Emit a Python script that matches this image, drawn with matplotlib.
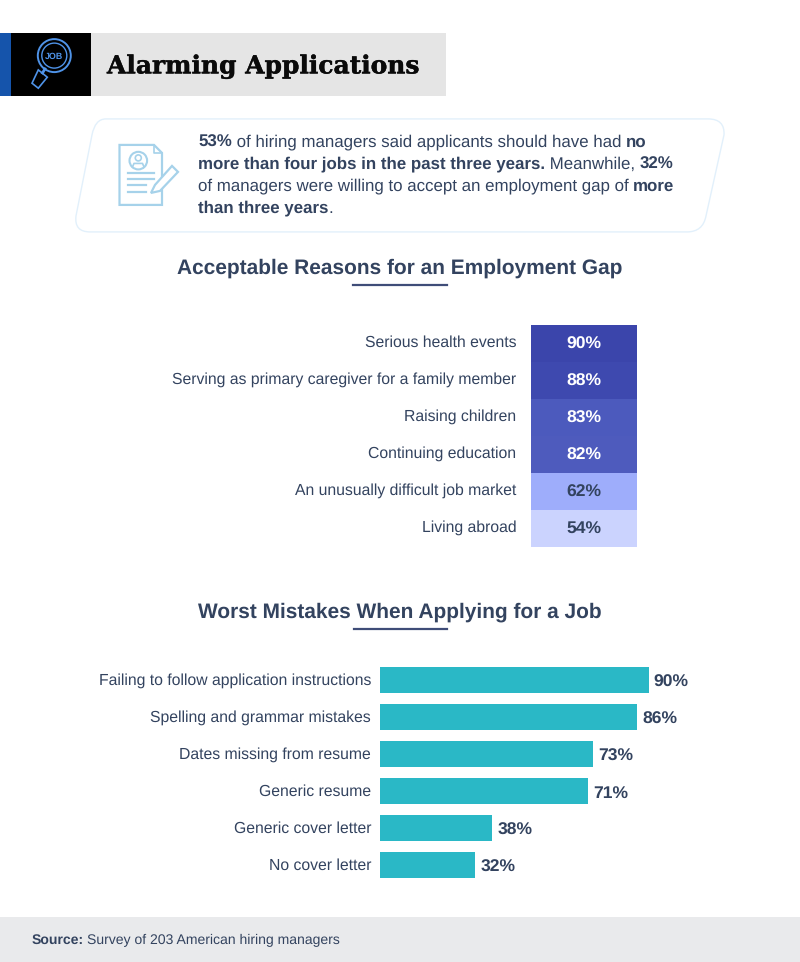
import matplotlib
matplotlib.use('Agg')
import matplotlib.pyplot as plt
import matplotlib.patheffects as pe
from matplotlib.patches import Rectangle, Circle, PathPatch, Polygon
from matplotlib.path import Path

plt.rcParams['font.family'] = ['Liberation Sans', 'DejaVu Sans']
plt.rcParams['text.hinting'] = 'no_hinting'

title = 'Alarming Applications'
heading1 = 'Acceptable Reasons for an Employment Gap'
reasons = ['Serious health events', 'Serving as primary caregiver for a family member',
           'Raising children', 'Continuing education',
           'An unusually difficult job market', 'Living abroad']
reason_vals = [90, 88, 83, 82, 62, 54]
reason_colors = ['#3b45ab', '#3e49af', '#4c5abd', '#4e5bbd', '#9eadfb', '#cbd3fe']

heading2 = 'Worst Mistakes When Applying for a Job'
mistakes = ['Failing to follow application instructions', 'Spelling and grammar mistakes',
            'Dates missing from resume', 'Generic resume', 'Generic cover letter', 'No cover letter']
mistake_labels = [90, 86, 73, 71, 38, 32]
# bar lengths as drawn, these run a bit short of the printed labels
mistake_vals = [90, 86.1, 71.4, 69.6, 37.4, 31.8]

blurb = [[('53%', True), (' of hiring managers said applicants should have had ', False), ('no', True)],
         [('more than four jobs in the past three years.', True), (' Meanwhile, ', False), ('32%', True)],
         [('of managers were willing to accept an employment gap of ', False), ('more', True)],
         [('than three years', True), ('.', False)]]

navy = '#33435f'
W, H = 800, 962

fig = plt.figure(figsize=(8, 9.621), dpi=100)
bg = fig.add_axes([0, 0, 1, 1])
bg.set_xlim(0, W)
bg.set_ylim(H, 0)
bg.axis('off')

# header band
bg.add_patch(Rectangle((0, 33), 11, 63.5, color='#1554ab', lw=0))
bg.add_patch(Rectangle((11, 33), 80, 63.5, color='#000000', lw=0))
bg.add_patch(Rectangle((91, 33), 355, 63.5, color='#e5e5e5', lw=0))
bg.text(107, 73.5, title, family='DejaVu Serif', weight='bold', fontsize=17.95, color='#0a0a0a',
        va='baseline', ha='left', path_effects=[pe.withStroke(linewidth=0.3, foreground='#0a0a0a')])

# magnifier icon
blue = '#4f93e8'
bg.add_patch(Circle((54.3, 55.7), 16.5, fc='none', ec=blue, lw=1.4))
bg.add_patch(Circle((54.3, 55.7), 12.5, fc='none', ec=blue, lw=1.0))
bg.text(54.3, 56.5, 'JOB', fontsize=6.4, weight='bold', color=blue, ha='center', va='center')
bg.plot([45, 42.5], [69, 73], color=blue, lw=2)
bg.add_patch(Polygon([(38.3, 70), (47.3, 77.3), (38.3, 88.3), (32, 83.3)], closed=True, fc='#000000',
                     ec=blue, lw=1.2))

# blurb box
verts = [(106, 119), (708, 119), (725, 119), (724, 135), (706, 216), (703, 232), (687, 232),
         (90, 232), (74, 232), (76, 216), (92, 135), (95, 119), (106, 119)]
codes = [Path.MOVETO, Path.LINETO, Path.CURVE3, Path.CURVE3, Path.LINETO, Path.CURVE3, Path.CURVE3,
         Path.LINETO, Path.CURVE3, Path.CURVE3, Path.LINETO, Path.CURVE3, Path.CURVE3]
bg.add_patch(PathPatch(Path(verts, codes), fc='white', ec='#e2f0fb', lw=1.0))

# document icon
ic = '#a6d2ea'
bg.add_patch(Polygon([(119.5, 145), (154, 145), (162, 153), (162, 205), (119.5, 205)], closed=True,
                     fc='none', ec=ic, lw=1.6))
bg.plot([154, 154, 162], [145, 153, 153], color=ic, lw=1.2)
bg.add_patch(Circle((138.3, 160.7), 8.8, fc='none', ec=ic, lw=1.5))
bg.add_patch(Circle((138.3, 158), 3, fc='none', ec=ic, lw=1.2))
bg.plot([132.5, 134, 142.5, 144], [167, 163.5, 163.5, 167], color=ic, lw=1.2)
for yy, x1 in zip([172.7, 179, 185.3, 191.7], [154, 154, 146, 146]):
    bg.plot([127.5, x1], [yy, yy], color=ic, lw=1.6)
bg.add_patch(Polygon([(155, 185), (172, 166), (178, 172), (160, 191), (151, 193)], closed=True,
                     fc='white', ec=ic, lw=1.6))

# blurb text, bold and regular runs side by side
renderer = fig.canvas.get_renderer()
for i, line in enumerate(blurb):
    x = 198
    y = 146.6 + i * 22
    for chunk, is_bold in line:
        wt = 'bold' if is_bold else 'normal'
        bg.text(x, y, chunk, fontsize=12.12, color=navy, va='baseline', ha='left', weight=wt)
        # keep the width of leading and trailing spaces
        probe = bg.text(0, 0, 'x' + chunk + 'x', fontsize=12.12, weight=wt)
        px = bg.text(0, 0, 'xx', fontsize=12.12, weight=wt)
        x += probe.get_window_extent(renderer).width - px.get_window_extent(renderer).width
        probe.remove()
        px.remove()

# section headings
bg.text(400, 274, heading1, fontsize=15.02, weight='bold', color=navy, ha='center', va='baseline')
bg.plot([353, 447], [285, 285], color='#3f4d78', lw=1.6)
bg.text(400, 617.5, heading2, fontsize=15.02, weight='bold', color=navy, ha='center', va='baseline')
bg.plot([354, 447], [629, 629], color='#3f4d78', lw=1.6)

# heat column
ax1 = fig.add_axes([531 / W, 1 - 547 / H, 106 / W, 222 / H])
ax1.barh(range(6), [1] * 6, height=1, color=reason_colors, left=0)
ax1.set_xlim(0, 1)
ax1.set_ylim(5.5, -0.5)
ax1.axis('off')
for i, v in enumerate(reason_vals):
    ax1.text(0.495, i + 0.03, f'{v}%', fontsize=12.6, weight='bold', ha='center', va='center',
             color='white' if v > 70 else navy)
    bg.text(516.5, 346.5 + i * 37, reasons[i], fontsize=11.33, color=navy, ha='right', va='baseline')

# bar chart
ax2 = fig.add_axes([380.3 / W, 1 - 883.7 / H, 298 / W, 222 / H])
ax2.barh(range(6), mistake_vals, height=0.71, color='#2ab8c6')
ax2.set_xlim(0, 100)
ax2.set_ylim(5.5, -0.5)
ax2.axis('off')
for i, v in enumerate(mistake_vals):
    ax2.text(v + 1.8, i + 0.05, f'{mistake_labels[i]}%', fontsize=12.6, weight='bold', color=navy,
             ha='left', va='center')
    bg.text(371, 684.5 + i * 37, mistakes[i], fontsize=11.33, color=navy, ha='right', va='baseline')

# source strip
bg.add_patch(Rectangle((0, 917), 800, 45, color='#e9eaec', lw=0))
bg.text(32, 944, 'Source:', fontsize=10.06, weight='bold', color=navy, va='baseline')
bg.text(87, 944, 'Survey of 203 American hiring managers', fontsize=10.06, color=navy, va='baseline')

fig.savefig('out.png', dpi=100)
